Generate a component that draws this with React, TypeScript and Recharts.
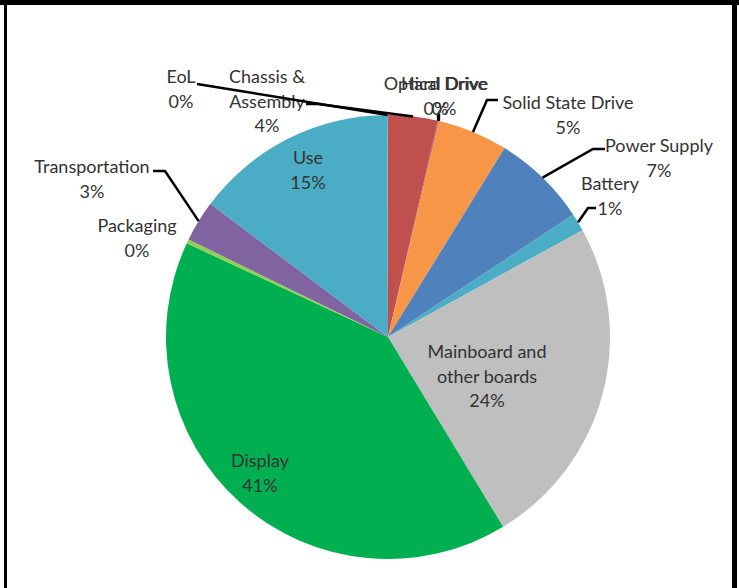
import { PieChart, Pie, Cell } from "recharts";

// clockwise from 12 o'clock, as in the source workbook
const components = [
  "Chassis & Assembly",
  "Optical Drive",
  "Hard Drive",
  "Solid State Drive",
  "Power Supply",
  "Battery",
  "Mainboard and other boards",
  "Display",
  "Packaging",
  "Transportation",
  "Use",
  "EoL",
];
const shares = [3.6, 0.05, 0.05, 5.1, 6.9, 1.3, 24.3, 40.6, 0.3, 3.0, 14.7, 0.05];
const labelLines = [
  ["Chassis &", "Assembly"],
  ["Optical Drive"],
  ["Hard Drive"],
  ["Solid State Drive"],
  ["Power Supply"],
  ["Battery"],
  ["Mainboard and", "other boards"],
  ["Display"],
  ["Packaging"],
  ["Transportation"],
  ["Use"],
  ["EoL"],
];
const colors = [
  "#c0504d", "#c0504d", "#c0504d", "#f79646", "#4f81bd", "#4bacc6",
  "#bfbfbf", "#00b050", "#92d050", "#8064a2", "#4bacc6", "#4bacc6",
];

const data = components.map((name, i) => ({ name, value: shares[i] }));

// hand placed labels (Excel style), leader runs from these points to the slice edge
const labelLayout: { x: number; y: number; lead?: number[][] }[] = [
  { x: 267, y: 76, lead: [[306, 104], [318, 104]] },
  { x: 436, y: 83, lead: [[438, 114]] },
  { x: 444, y: 83, lead: [[439, 114]] },
  { x: 568, y: 102, lead: [[498, 100], [487, 100]] },
  { x: 659, y: 145, lead: [[605, 149], [593, 149]] },
  { x: 610, y: 183, lead: [[596, 208], [588, 208]] },
  { x: 487, y: 351 },
  { x: 260, y: 460 },
  { x: 137, y: 225 },
  { x: 92, y: 166, lead: [[153, 171], [165, 171]] },
  { x: 308, y: 157 },
  { x: 181, y: 76, lead: [[197, 84]] },
];

const RAD = Math.PI / 180;
const FONT = "Lato, 'Open Sans', sans-serif";

const renderLabel = (props: any) => {
  const { cx, cy, midAngle, outerRadius, index, percent } = props;
  const spot = labelLayout[index];
  const lines = [...labelLines[index], `${Math.round(percent * 100)}%`];
  const ex = cx + outerRadius * Math.cos(-midAngle * RAD);
  const ey = cy + outerRadius * Math.sin(-midAngle * RAD);
  const pts = spot.lead ? [...spot.lead, [ex, ey]] : null;
  return (
    <g key={`lbl-${index}`}>
      {pts && (
        <polyline
          points={pts.map((p) => p.join(",")).join(" ")}
          fill="none"
          stroke="#000"
          strokeWidth={2.5}
        />
      )}
      {lines.map((t, k) => (
        <text
          key={k}
          x={spot.x}
          y={spot.y + k * 24.5}
          textAnchor="middle"
          dominantBaseline="central"
          fontFamily={FONT}
          fontSize={18}
          fill="#333"
        >
          {t}
        </text>
      ))}
    </g>
  );
};

export default function App() {
  return (
    <div
      style={{
        position: "absolute",
        left: 0,
        top: 0,
        width: 739,
        height: 588,
        background: "#fff",
        overflow: "hidden",
      }}
    >
      <PieChart width={739} height={588} margin={{ top: 0, right: 0, bottom: 0, left: 0 }}>
        <Pie
          data={data}
          dataKey="value"
          nameKey="name"
          cx={388}
          cy={337}
          outerRadius={222}
          startAngle={90}
          endAngle={-270}
          stroke="none"
          label={renderLabel}
          labelLine={false}
          isAnimationActive={false}
        >
          {data.map((d, i) => (
            <Cell key={d.name} fill={colors[i]} />
          ))}
        </Pie>
      </PieChart>
      <div style={{ position: "absolute", left: 0, top: 0, width: 739, height: 5, background: "#000" }} />
      <div style={{ position: "absolute", left: 4, top: 0, width: 3, height: 588, background: "#000" }} />
      <div style={{ position: "absolute", left: 732, top: 0, width: 5, height: 588, background: "#000" }} />
    </div>
  );
}
